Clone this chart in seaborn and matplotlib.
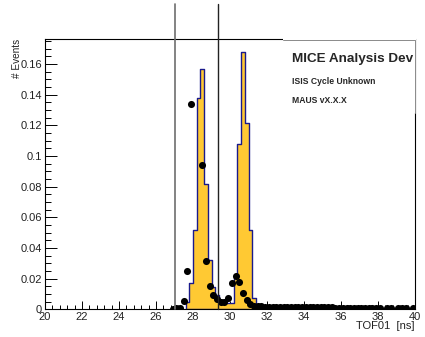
import numpy as np
import matplotlib
matplotlib.use("Agg")
import matplotlib.pyplot as plt
import matplotlib.transforms as mtransforms
from matplotlib.ticker import MultipleLocator, FixedLocator
import seaborn as sns

# ── data ────────────────────────────────────
# histogram (MC), 0.2 ns bins, left edges of the filled bins
hist_left = [27.6, 27.8, 28.0, 28.2, 28.4, 28.6, 28.8, 29.0, 29.2, 29.4,
             29.6, 29.8, 30.0, 30.2, 30.4, 30.6, 30.8, 31.0, 31.2, 31.4,
             31.6, 31.8, 32.0, 32.2, 32.4, 32.6, 32.8, 33.0, 33.2, 33.4,
             33.6, 33.8, 34.0, 34.2, 34.4, 34.6, 34.8, 35.0, 35.2, 35.4,
             35.6, 35.8, 36.0, 36.2, 36.4, 36.6, 36.8, 37.0, 37.2, 37.4,
             37.6, 37.8, 38.0, 38.2, 38.4, 38.6, 38.8, 39.0, 39.2, 39.4,
             39.6, 39.8]
hist_vals = [0.005, 0.017, 0.052, 0.138, 0.1565, 0.082, 0.032, 0.0147, 0.0095, 0.0055,
             0.0045, 0.004, 0.004, 0.021, 0.108, 0.1674, 0.1212, 0.0517, 0.0074, 0.0018,
             0.0015, 0.0014, 0.0013, 0.0013, 0.0012, 0.0012, 0.0011, 0.0011, 0.0010, 0.0010,
             0.0010, 0.0009, 0.0009, 0.0009, 0.0008, 0.0008, 0.0008, 0.0008, 0.0007, 0.0007,
             0.0007, 0.0007, 0.0006, 0.0006, 0.0006, 0.0006, 0.0006, 0.0005, 0.0005, 0.0005,
             0.0005, 0.0005, 0.0005, 0.0004, 0.0004, 0.0004, 0.0004, 0.0004, 0.0004, 0.0004,
             0.0004, 0.0004]

# data points
dot_x = [26.9, 27.1, 27.3, 27.5, 27.7, 27.9, 28.5, 28.7, 28.9, 29.1,
         29.3, 29.5, 29.7, 29.9, 30.1, 30.3, 30.5, 30.7, 30.9, 31.1,
         31.3, 31.5, 31.7, 31.9, 32.1, 32.3, 32.5, 32.7, 32.9, 33.1,
         33.3, 33.5, 33.7, 33.9, 34.1, 34.3, 34.5, 34.7, 34.9, 35.1,
         35.3, 35.5, 35.7, 35.9, 36.1, 36.3, 36.5, 36.7, 36.9, 37.1,
         37.3, 37.5, 37.7, 37.9, 38.1, 38.5, 38.7, 39.1, 39.3, 39.5,
         39.9]
dot_y = [0.0004, 0.0006, 0.0010, 0.0056, 0.0252, 0.1337, 0.0938, 0.0317, 0.0152, 0.0093,
         0.0065, 0.0050, 0.0047, 0.0076, 0.0171, 0.0218, 0.0180, 0.0109, 0.0060, 0.0036,
         0.0024, 0.0020, 0.0019, 0.0018, 0.0018, 0.0017, 0.0017, 0.0016, 0.0016, 0.0015,
         0.0015, 0.0015, 0.0014, 0.0014, 0.0014, 0.0013, 0.0013, 0.0013, 0.0012, 0.0012,
         0.0012, 0.0012, 0.0011, 0.0011, 0.0011, 0.0011, 0.0010, 0.0010, 0.0010, 0.0010,
         0.0010, 0.0009, 0.0009, 0.0009, 0.0009, 0.0008, 0.0008, 0.0007, 0.0007, 0.0007,
         0.0007]

cut_lines = [27.03, 29.33]
y_ticks = [0, 0.02, 0.04, 0.06, 0.08, 0.1, 0.12, 0.14, 0.16]
y_ticklabels = ["0", "0.02", "0.04", "0.06", "0.08", "0.1", "0.12", "0.14", "0.16"]
x_ticks = [20, 22, 24, 26, 28, 30, 32, 34, 36, 38, 40]

# ── style ───────────────────────────────────
sns.set_theme(style="ticks")
plt.rcParams["font.family"] = ["Liberation Sans", "DejaVu Sans"]

fig = plt.figure(figsize=(4.25, 3.37), dpi=100)
ax = fig.add_axes([45 / 425, 27.7 / 337, 370 / 425, 270 / 337])

# histogram
edges = list(hist_left) + [hist_left[-1] + 0.2]
centers = [e + 0.1 for e in hist_left]
sns.histplot(x=centers, weights=hist_vals, bins=edges, element="step", fill=True,
             color="#FFC933", edgecolor="#1a1a8c", linewidth=1.0, alpha=1.0, ax=ax)

# points
sns.scatterplot(x=dot_x, y=dot_y, color="black", s=26, edgecolor="black",
                linewidth=0, zorder=4, ax=ax)

# cut lines (extend above the frame)
trans = mtransforms.blended_transform_factory(ax.transData, ax.transAxes)
ax.plot([cut_lines[0]] * 2, [0, 1.131], transform=trans, color="#6e6e6e",
        lw=1.2, clip_on=False, zorder=5)
ax.plot([cut_lines[1]] * 2, [0, 1.131], transform=trans, color="#222222",
        lw=1.0, clip_on=False, zorder=5)

ax.set_xlim(20, 40)
ax.set_ylim(0, 0.176)

ax.xaxis.set_major_locator(FixedLocator(x_ticks))
ax.xaxis.set_minor_locator(MultipleLocator(0.4))
ax.yaxis.set_major_locator(FixedLocator(y_ticks))
ax.set_yticklabels(y_ticklabels)
ax.yaxis.set_minor_locator(MultipleLocator(0.005))

ax.tick_params(axis="both", which="both", direction="in", colors="black",
               labelsize=8, width=0.7, labelcolor="#222222")
ax.tick_params(axis="x", which="major", length=5.5, pad=2)
ax.tick_params(axis="x", which="minor", length=2.9)
ax.tick_params(axis="y", which="major", length=8.4, pad=2)
ax.tick_params(axis="y", which="minor", length=4.3)

for sp in ax.spines.values():
    sp.set_linewidth(0.8)
    sp.set_color("black")
    sp.set_visible(True)

ax.set_xlabel("TOF01  [ns]", fontsize=8, loc="right", color="#222222")
ax.xaxis.set_label_coords(1.0, -0.045)
ax.set_ylabel("# Events", fontsize=7.2, loc="top", color="#222222")
ax.yaxis.set_label_coords(-0.062, 1.0)

# info box (covers the top right of the frame)
box = plt.Rectangle((0.643, 0.727), 0.36, 0.28, transform=ax.transAxes,
                    facecolor="white", edgecolor="none", zorder=6, clip_on=False)
ax.add_patch(box)
ax.plot([0.643, 1.0, 1.0], [0.997, 0.997, 0.727], transform=ax.transAxes,
        color="#8a8a8a", lw=0.7, clip_on=False, zorder=7)
ax.text(0.667, 0.926, "MICE Analysis Dev", transform=ax.transAxes, fontsize=9.7,
        fontweight="bold", va="center", ha="left", zorder=8)
ax.text(0.667, 0.843, "ISIS Cycle Unknown", transform=ax.transAxes, fontsize=6.2,
        fontweight="bold", va="center", ha="left", zorder=8)
ax.text(0.667, 0.773, "MAUS vX.X.X", transform=ax.transAxes, fontsize=6.2,
        fontweight="bold", va="center", ha="left", zorder=8)

fig.savefig("out.png", dpi=100)
plt.close()
